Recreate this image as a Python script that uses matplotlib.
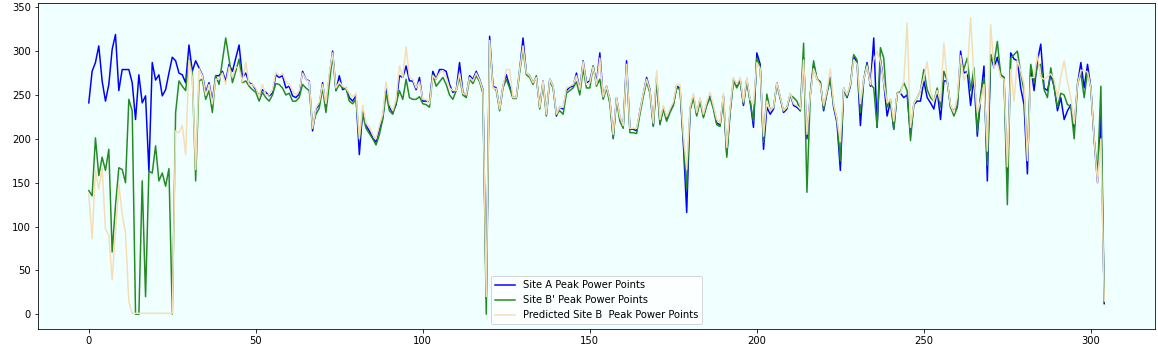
import matplotlib
matplotlib.use("Agg")
import matplotlib.pyplot as plt

site_a = [
    241, 277, 287, 306, 266, 243, 262, 302, 319, 255, 279, 279, 279, 264, 222, 273, 241, 249, 163, 287,
    267, 273, 249, 256, 275, 293, 289, 275, 273, 264, 307, 277, 289, 281, 273, 253, 264, 243, 272, 272,
    277, 266, 285, 277, 292, 307, 270, 275, 264, 262, 256, 249, 256, 253, 249, 252, 273, 270, 272, 258,
    260, 249, 247, 251, 277, 268, 266, 209, 234, 239, 264, 236, 270, 300, 255, 272, 256, 258, 247, 243,
    249, 182, 232, 215, 209, 201, 196, 211, 224, 258, 236, 230, 239, 272, 270, 283, 266, 266, 256, 270,
    243, 243, 242, 277, 268, 279, 279, 277, 262, 253, 255, 287, 253, 249, 272, 268, 277, 268, 256, 18,
    317, 260, 258, 234, 260, 273, 260, 247, 247, 279, 315, 275, 272, 264, 270, 236, 266, 228, 268, 260,
    226, 236, 234, 255, 259, 260, 275, 256, 289, 264, 266, 283, 264, 298, 247, 260, 245, 201, 247, 224,
    215, 289, 211, 211, 209, 232, 251, 270, 256, 215, 270, 218, 236, 222, 232, 239, 260, 258, 195, 116,
    234, 249, 228, 245, 226, 239, 249, 236, 218, 216, 249, 182, 232, 268, 260, 268, 238, 268, 243, 213,
    298, 285, 188, 236, 228, 234, 264, 247, 230, 234, 251, 238, 236, 232, 292, 200, 250, 285, 268, 265,
    232, 253, 270, 236, 218, 164, 257, 247, 260, 294, 287, 215, 267, 287, 260, 315, 213, 291, 264, 226,
    243, 211, 252, 252, 247, 250, 205, 239, 243, 243, 266, 247, 241, 234, 255, 222, 266, 266, 236, 232,
    236, 300, 275, 277, 238, 270, 203, 247, 283, 152, 296, 281, 293, 273, 270, 150, 298, 291, 289, 258,
    239, 160, 283, 255, 289, 308, 258, 255, 273, 260, 232, 247, 222, 232, 239, 212, 262, 287, 258, 285,
    258, 198, 150, 226, 12,
]

site_b_prime = [
    141, 135, 201, 158, 179, 164, 188, 71, 124, 167, 165, 150, 245, 232, 0, 0, 152, 20, 163, 161,
    192, 152, 161, 146, 166, 0, 230, 266, 260, 255, 291, 275, 152, 266, 268, 245, 255, 230, 272, 262,
    289, 315, 291, 264, 277, 291, 264, 266, 260, 256, 253, 243, 253, 247, 243, 250, 263, 262, 258, 250,
    252, 243, 243, 247, 262, 258, 255, 215, 228, 235, 258, 230, 262, 295, 255, 262, 258, 258, 243, 240,
    245, 200, 228, 212, 206, 200, 193, 205, 222, 252, 232, 228, 240, 255, 245, 268, 247, 245, 245, 248,
    240, 239, 236, 273, 260, 265, 270, 262, 250, 245, 255, 270, 250, 247, 268, 263, 272, 265, 252, 0,
    310, 260, 255, 232, 258, 268, 258, 246, 246, 276, 302, 273, 270, 262, 272, 234, 264, 226, 266, 258,
    228, 232, 228, 252, 255, 258, 265, 250, 280, 258, 258, 283, 260, 268, 245, 258, 240, 200, 245, 220,
    212, 283, 207, 207, 206, 228, 248, 265, 252, 214, 268, 216, 234, 220, 230, 238, 258, 256, 200, 143,
    232, 247, 226, 243, 224, 238, 247, 234, 216, 214, 248, 179, 230, 266, 258, 266, 240, 266, 242, 220,
    292, 282, 196, 251, 232, 236, 262, 246, 232, 236, 250, 247, 243, 232, 309, 139, 250, 289, 268, 265,
    234, 253, 268, 238, 222, 175, 258, 248, 262, 296, 290, 230, 268, 285, 262, 258, 213, 304, 292, 236,
    245, 211, 252, 254, 264, 255, 198, 240, 247, 255, 279, 256, 247, 243, 258, 236, 277, 266, 236, 226,
    236, 286, 280, 292, 255, 281, 208, 250, 270, 170, 296, 286, 311, 273, 270, 125, 292, 296, 300, 275,
    255, 180, 285, 264, 283, 285, 256, 247, 281, 258, 236, 252, 250, 239, 237, 200, 262, 275, 247, 277,
    258, 200, 160, 260, 14,
]

predicted_b = [
    137, 86, 164, 143, 167, 97, 90, 39, 95, 148, 114, 92, 14, 1, 1, 1, 1, 1, 1, 1,
    1, 1, 1, 1, 1, 1, 209, 207, 215, 182, 290, 270, 165, 280, 272, 250, 262, 240, 268, 268,
    275, 262, 282, 270, 282, 280, 265, 287, 262, 262, 258, 248, 262, 250, 250, 256, 276, 272, 275, 265,
    262, 255, 250, 255, 275, 268, 265, 212, 235, 242, 262, 240, 275, 298, 258, 265, 260, 258, 252, 248,
    252, 200, 238, 218, 214, 205, 200, 215, 228, 265, 240, 232, 245, 283, 270, 305, 270, 268, 258, 265,
    245, 245, 240, 272, 268, 275, 278, 270, 258, 255, 255, 275, 252, 250, 270, 266, 275, 267, 255, 20,
    312, 258, 257, 234, 260, 279, 279, 247, 247, 279, 306, 275, 272, 264, 270, 236, 266, 228, 268, 260,
    228, 236, 236, 258, 260, 262, 272, 256, 288, 262, 264, 282, 262, 292, 248, 260, 245, 205, 247, 225,
    215, 285, 212, 212, 212, 232, 252, 268, 255, 218, 278, 222, 238, 225, 234, 242, 262, 262, 205, 165,
    236, 252, 230, 247, 228, 242, 253, 238, 222, 218, 252, 190, 236, 270, 262, 270, 242, 270, 245, 240,
    287, 280, 203, 243, 232, 236, 264, 248, 232, 236, 252, 240, 238, 234, 290, 205, 250, 280, 268, 262,
    238, 255, 280, 240, 222, 197, 258, 250, 262, 290, 285, 240, 268, 283, 262, 290, 300, 288, 264, 241,
    245, 220, 252, 252, 266, 332, 213, 240, 247, 255, 270, 288, 255, 243, 255, 243, 309, 266, 238, 230,
    247, 295, 267, 275, 338, 270, 230, 243, 262, 186, 330, 281, 286, 270, 268, 168, 279, 243, 290, 277,
    262, 175, 270, 270, 296, 270, 268, 271, 274, 268, 247, 270, 289, 265, 247, 217, 262, 278, 278, 276,
    258, 200, 150, 200, 15,
]

labels = ["Site A Peak Power Points", "Site B' Peak Power Points", "Predicted Site B  Peak Power Points"]

fig = plt.figure(figsize=(1158 / 72, 353 / 72), dpi=72)
ax = fig.add_axes([38 / 1158, (353 - 329) / 353, (1155 - 38) / 1158, (329 - 3) / 353])
ax.set_facecolor("azure")

x = list(range(len(site_a)))
ax.plot(x, site_a, color="blue", label=labels[0])
ax.plot(x, site_b_prime, color="forestgreen", label=labels[1])
ax.plot(x, predicted_b, color="wheat", label=labels[2])

ax.set_xticks([0, 50, 100, 150, 200, 250, 300])
ax.set_yticks([0, 50, 100, 150, 200, 250, 300, 350])
ax.tick_params(labelsize=10)
ax.legend(loc="lower center", fontsize=10)

fig.savefig("out.png", dpi=72)
